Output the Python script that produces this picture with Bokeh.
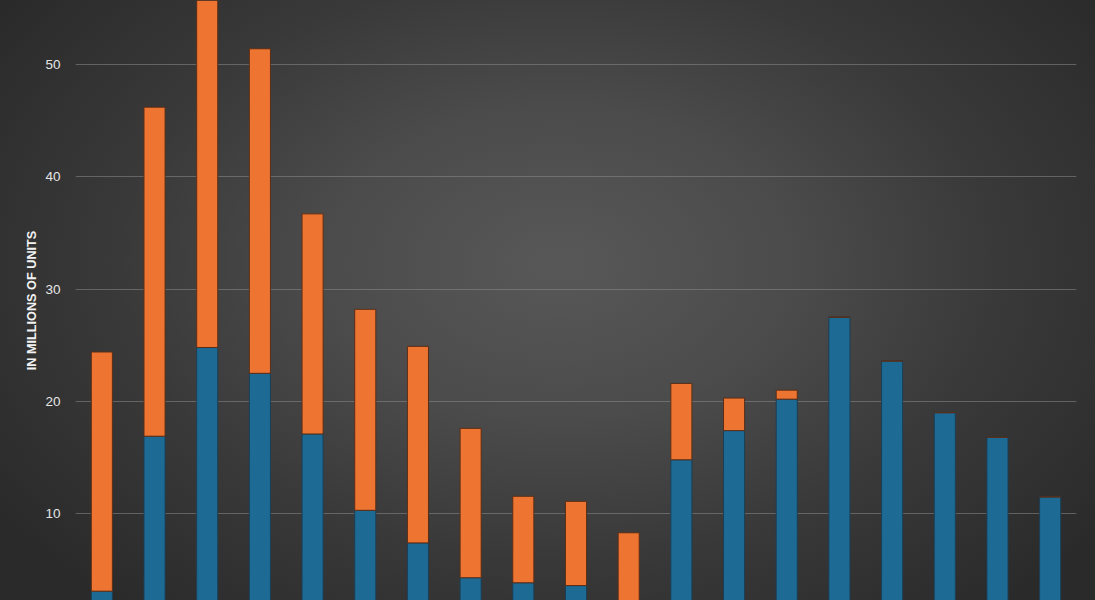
from bokeh.plotting import figure
from bokeh.models import Range1d, FactorRange, SingleIntervalTicker, ColumnDataSource, GlobalInlineStyleSheet
from bokeh.embed import file_html
from bokeh.resources import INLINE

# ---- data (millions of units) ----
categories = [str(i) for i in range(1, 20)]
series_names = ["Blue series", "Orange series"]
blue_values = [3.1, 16.9, 24.8, 22.5, 17.1, 10.3, 7.4, 4.3, 3.85, 3.6, 1.2,
               14.8, 17.4, 20.2, 27.5, 23.6, 19.0, 16.8, 11.5]
orange_values = [21.3, 29.3, 32.2, 28.9, 19.6, 17.9, 17.5, 13.3, 7.7, 7.5, 7.1,
                 6.8, 2.9, 0.8, 0.0, 0.0, 0.0, 0.0, 0.0]
y_label = "IN MILLIONS OF UNITS"
y_ticks_interval = 10

source = ColumnDataSource(data=dict(cat=categories, blue=blue_values, orange=orange_values))

page_css = GlobalInlineStyleSheet(css="""
html, body { margin: 0; padding: 0; height: 100%; overflow: hidden;
  background: radial-gradient(ellipse 62% 75% at 51% 44%, #585858 0%, #4b4b4b 35%, #393939 65%, #2a2a2a 100%);
  background-color: #2e2e2e; }
""")

p = figure(
    width=1095, height=600,
    x_range=FactorRange(factors=categories, range_padding=0),
    y_range=Range1d(2.27, 55.7),
    output_backend="svg", toolbar_location=None,
    min_border_left=75, min_border_right=19, min_border_top=0, min_border_bottom=0,
)
p.stylesheets = [page_css]
p.background_fill_alpha = 0
p.border_fill_alpha = 0
p.outline_line_color = None

p.vbar_stack(["blue", "orange"], x="cat", width=0.40, source=source,
             color=["#1d6a95", "#ee7432"],
             line_color=["#1b3f55", "#5a2e16"], line_width=1,
             legend_label=series_names)
p.legend.visible = False

p.xaxis.visible = False
p.xgrid.grid_line_color = None
p.ygrid.grid_line_color = "#8a8a8a"
p.ygrid.grid_line_alpha = 0.55
p.ygrid.ticker = SingleIntervalTicker(interval=y_ticks_interval)

ya = p.yaxis[0]
ya.ticker = SingleIntervalTicker(interval=y_ticks_interval)
ya.axis_line_color = None
ya.major_tick_line_color = None
ya.minor_tick_line_color = None
ya.major_tick_out = 0
ya.major_tick_in = 0
ya.minor_tick_out = 0
ya.major_label_standoff = 15
ya.major_label_text_color = "#e6e6e6"
ya.major_label_text_font = "Liberation Sans"
ya.major_label_text_font_size = "13.5px"
ya.axis_label = y_label
ya.axis_label_text_color = "#f2f2f2"
ya.axis_label_text_font = "Liberation Sans"
ya.axis_label_text_font_style = "bold"
ya.axis_label_text_font_size = "12.7px"
ya.axis_label_standoff = 3

open("out.html", "w").write(file_html(p, INLINE))
